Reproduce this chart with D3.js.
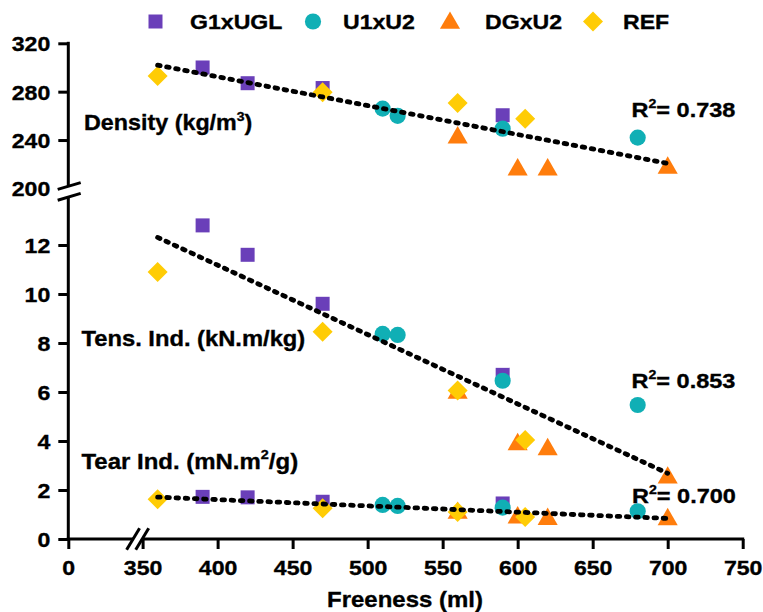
<!DOCTYPE html>
<html><head><meta charset="utf-8">
<script src="https://cdn.jsdelivr.net/npm/d3@7"></script>
<style>
body{margin:0;background:#fff}
svg{display:block}
text{font-family:"Liberation Sans",Arial,sans-serif;font-weight:bold;fill:#000;stroke:#000;stroke-width:0.35px}
</style>
</head><body>
<svg id="c" width="763" height="612"></svg>
<script>
// ---------- data ----------
const seriesNames = ["G1xUGL", "U1xU2", "DGxU2", "REF"];
const seriesColors = ["#6a3fb9", "#10afb5", "#ff7d0c", "#ffcc05"];

const g1Freeness  = [390, 420, 470, 590];
const g1Density   = [300, 287, 283, 260.5];
const g1Tensile   = [12.8, 11.6, 9.6, 6.7];
const g1Tear      = [1.72, 1.7, 1.52, 1.45];

const u1Freeness  = [510, 520, 590, 680];
const u1Density   = [266, 260, 249.4, 242];
const u1Tensile   = [8.37, 8.33, 6.46, 5.47];
const u1Tear      = [1.39, 1.35, 1.28, 1.13];

const dgFreeness  = [560, 600, 620, 700];
const dgDensity   = [242, 215.5, 215.5, 217];
const dgTensile   = [5.96, 3.86, 3.66, 2.5];
const dgTear      = [1.06, 0.87, 0.81, 0.8];

const refFreeness = [360, 470, 560, 605];
const refDensity  = [293, 279.5, 270.6, 257.6];
const refTensile  = [10.9, 8.46, 6.06, 4.04];
const refTear     = [1.62, 1.26, 1.1, 0.9];

const trendFreeness = [360, 700];
const densityTrend  = [301.9, 220.7];
const tensileTrend  = [12.31, 2.68];
const tearTrend     = [1.71, 0.84];

const r2Values = ["0.738", "0.853", "0.700"];
const panelLabels = ["Density (kg/m", "Tens. Ind. (kN.m/kg)", "Tear Ind. (mN.m", "/g)"];
const xTitle = "Freeness (ml)";

const xTicks    = [0, 350, 400, 450, 500, 550, 600, 650, 700, 750];
const yTopTicks = [200, 240, 280, 320];
const yBotTicks = [0, 2, 4, 6, 8, 10, 12];

// ---------- scales ----------
const svg = d3.select("#c");
const x    = d3.scaleLinear().domain([0, 350, 750]).range([68.3, 142.6, 742.7]);
const yTop = d3.scaleLinear().domain([200, 320]).range([188.4, 43.3]);
const yBot = d3.scaleLinear().domain([0, 14]).range([539, 196]);
const ink = "#000";
const axX0 = x(0), axY0 = yBot(0);

// ---------- symbols ----------
const diamond = {draw(ctx, size){const r = Math.sqrt(size/2); ctx.moveTo(0,-r); ctx.lineTo(r,0); ctx.lineTo(0,r); ctx.lineTo(-r,0); ctx.closePath();}};
const symTypes = [d3.symbolSquare, d3.symbolCircle, d3.symbolTriangle, diamond];
const symSizes = [196, 205, 175, 200];
const symPath = i => d3.symbol().type(symTypes[i]).size(symSizes[i])();

// ---------- text helper ----------
function label(x0, y0, parts, size, sx, anchor){
  const t = svg.append("text")
    .attr("transform", `translate(${x0},${y0}) scale(${sx},1)`)
    .attr("font-size", size)
    .attr("text-anchor", anchor || "start");
  parts.forEach(p => {
    const ts = t.append("tspan").text(p.t);
    if (p.sup) ts.attr("font-size", size*0.6).attr("dy", -size*0.42);
    else if (p.after) ts.attr("dy", size*0.42);
  });
  return t;
}

// ---------- axes ----------
const xAxis = svg.append("g").attr("transform", `translate(0,${axY0})`)
  .call(d3.axisBottom(x).tickValues(xTicks).tickSize(10).tickSizeOuter(0).tickFormat(d3.format("d")));
xAxis.select(".domain").remove();
xAxis.selectAll("line").attr("stroke", ink).attr("stroke-width", 3);
xAxis.selectAll("text").attr("y", 0).attr("dy", 0).attr("font-size", 21)
  .attr("fill", ink).attr("font-family", null)
  .attr("transform", "translate(0,36) scale(1.1,1)");

function leftAxis(scale, ticks){
  const g = svg.append("g").attr("transform", `translate(${axX0},0)`)
    .call(d3.axisLeft(scale).tickValues(ticks).tickSize(10).tickSizeOuter(0));
  g.select(".domain").remove();
  g.selectAll("line").attr("stroke", ink).attr("stroke-width", 3);
  g.selectAll("text").attr("x", 0).attr("dy", "0.35em").attr("font-size", 21)
    .attr("fill", ink).attr("font-family", null)
    .attr("transform", "translate(-18,0) scale(1.1,1)");
  return g;
}
const yb = leftAxis(yBot, yBotTicks);
const yt = leftAxis(yTop, yTopTicks);
yt.selectAll(".tick").filter(d => d === 200).select("line").remove();

// axis lines with breaks
const axisLines = [
  [axX0, yTop(320) - 1.5, axX0, 186],
  [axX0, 197, axX0, axY0 + 1.5],
  [axX0 - 1.5, axY0, 133.3, axY0],
  [142.4, axY0, x(750) + 1.5, axY0]
];
svg.append("g").selectAll("line").data(axisLines).join("line")
  .attr("x1", d => d[0]).attr("y1", d => d[1]).attr("x2", d => d[2]).attr("y2", d => d[3])
  .attr("stroke", ink).attr("stroke-width", 3);

// break slashes
const slashes = [
  [axX0 + 0.9, 186, 11.5, -3.4],
  [axX0 + 0.9, 196.8, 11.5, -3.4],
  [133.1, axY0, 6.5, -10.8],
  [142.2, axY0, 6.5, -10.8]
];
svg.append("g").selectAll("line").data(slashes).join("line")
  .attr("x1", d => d[0] - d[2]).attr("y1", d => d[1] - d[3])
  .attr("x2", d => d[0] + d[2]).attr("y2", d => d[1] + d[3])
  .attr("stroke", ink).attr("stroke-width", 3);

// ---------- markers ----------
const seriesX = [g1Freeness, u1Freeness, dgFreeness, refFreeness];
const panels = [
  {scale: yTop, vals: [g1Density, u1Density, dgDensity, refDensity]},
  {scale: yBot, vals: [g1Tensile, u1Tensile, dgTensile, refTensile]},
  {scale: yBot, vals: [g1Tear, u1Tear, dgTear, refTear]}
];
const markG = svg.append("g");
panels.forEach(p => {
  seriesNames.forEach((name, i) => {
    const pts = seriesX[i].map((fx, j) => [fx, p.vals[i][j]]);
    markG.append("g").selectAll("path").data(pts).join("path")
      .attr("d", symPath(i))
      .attr("transform", d => `translate(${x(d[0])},${p.scale(d[1])})`)
      .attr("fill", seriesColors[i]);
  });
});

// ---------- trend lines ----------
const trends = [[yTop, densityTrend], [yBot, tensileTrend], [yBot, tearTrend]];
trends.forEach(([sc, vals]) => {
  const line = d3.line().x(d => x(d[0])).y(d => sc(d[1]));
  svg.append("path")
    .attr("d", line(trendFreeness.map((f, j) => [f, vals[j]])))
    .attr("fill", "none").attr("stroke", ink).attr("stroke-width", 4.8)
    .attr("stroke-linecap", "round").attr("stroke-dasharray", "2.6,6.6");
});

// ---------- legend ----------
const legendX = [155.5, 313, 450, 593];
const legendTextX = [190, 343, 485, 623];
seriesNames.forEach((name, i) => {
  svg.append("path").attr("d", symPath(i))
    .attr("transform", `translate(${legendX[i]},${i === 2 ? 23 : 21.5})`)
    .attr("fill", seriesColors[i]);
  label(legendTextX[i], 28.8, [{t: name}], 21, 1.1);
});

// ---------- annotations ----------
label(84, 130, [{t: panelLabels[0]}, {t: "3", sup: true}, {t: ")", after: true}], 22, 1.06);
label(81.5, 345.5, [{t: panelLabels[1]}], 22, 1.08);
label(81.5, 468.5, [{t: panelLabels[2]}, {t: "2", sup: true}, {t: panelLabels[3], after: true}], 22, 1.09);

const r2Pos = [[631.5, 116.7], [631.5, 388.3], [632, 503.3]];
r2Values.forEach((v, i) => {
  label(r2Pos[i][0], r2Pos[i][1], [{t: "R"}, {t: "2", sup: true}, {t: "= " + v, after: true}], 21, 1.12);
});

label(405, 607, [{t: xTitle}], 22, 1.09, "middle");
</script>
</body></html>
